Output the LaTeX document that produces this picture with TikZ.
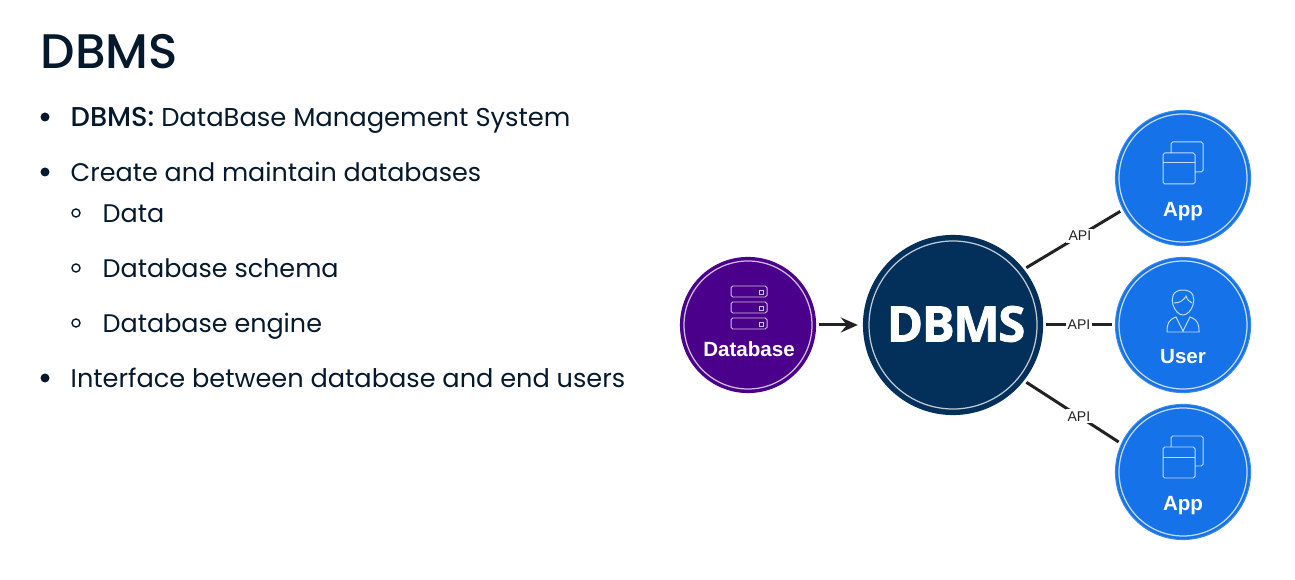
\documentclass[tikz,border=0pt]{standalone}
\usetikzlibrary{arrows.meta}
\usepackage{fontspec}
\setmainfont{Poppins}
\newfontfamily\midfont{Poppins Medium}
\newfontfamily\iconfont{Liberation Sans}
\newfontfamily\logofont[LetterSpace=-3,FakeBold=1.5]{Open Sans}
\definecolor{inkcol}{HTML}{05192D}
\definecolor{dbmscol}{HTML}{03305A}
\definecolor{dbcol}{HTML}{4B008C}
\definecolor{appcol}{HTML}{1572E8}
\definecolor{linecol}{HTML}{222222}
\tikzset{
  dbmsnode/.style={circle,fill=dbmscol,draw=dbmscol,line width=0.3pt,minimum size=1.79cm,inner sep=0,outer sep=1pt},
  dbnode/.style={circle,fill=dbcol,draw=dbcol,line width=0.3pt,minimum size=1.35cm,inner sep=0,outer sep=1pt},
  appnode/.style={circle,fill=appcol,draw=appcol!85!white,line width=0.3pt,minimum size=1.35cm,inner sep=0,outer sep=1pt},
  ringline/.style={draw=white,draw opacity=0.75,line width=0.35pt},
  iconline/.style={draw=white,draw opacity=0.75,line width=0.28pt,rounded corners=0.5pt},
  nodelabel/.style={text=white,font=\iconfont\bfseries\fontsize{5.85}{7}\selectfont},
  apilabel/.style={fill=white,inner sep=0.6pt,text=linecol,font=\iconfont\fontsize{4}{5}\selectfont},
  conn/.style={draw=linecol,line width=0.85pt},
  itemtext/.style={anchor=base west,text=inkcol,inner sep=0,font=\fontsize{7.23}{9}\selectfont},
  bulletdot/.style={circle,fill=inkcol,minimum size=0.09cm,inner sep=0},
  bulletring/.style={circle,draw=inkcol,line width=0.4pt,minimum size=0.08cm,inner sep=0},
  apps/.pic={
    \draw[iconline] (-12,-25) -- (-12,-36) -- (20,-36) -- (20,-6) -- (12,-6);
    \draw[iconline] (-20,6) rectangle (12,-25);
    \draw[iconline] (-20,-15) -- (12,-15);
  },
}
\begin{document}
\begin{tikzpicture}[x=0.01cm,y=-0.01cm,>={Stealth[length=1.7mm,width=1.5mm,inset=0.6mm]}]
  \useasboundingbox (0,0) rectangle (1295,580);
  % left column
  \node[anchor=base west,inner sep=0,text=inkcol,font=\midfont\fontsize{13.8}{16}\selectfont] (title) at (40,69) {DBMS};
  \node[bulletdot] (dot1) at (45,117) {};
  \node[itemtext,font=\fontsize{7.33}{9}\selectfont] (item1) at (70,127) {{\midfont\fontsize{7.75}{9}\selectfont DBMS:} DataBase Management System};
  \node[bulletdot] (dot2) at (45,172) {};
  \node[itemtext] (item2) at (70,182) {Create and maintain databases};
  \foreach \n/\y/\t in {1/213/Data,2/268/Database schema,3/323/Database engine}{
    \node[bulletring] (ring\n) at (76,\y) {};
    \node[itemtext] (sub\n) at (102,\y+10) {\t};
  }
  \node[bulletdot] (dot3) at (45,378) {};
  \node[itemtext,font=\fontsize{7.28}{9}\selectfont] (item3) at (70,388) {Interface between database and end users};
  % circles
  \node[dbnode] (db) at (748,325) {};
  \node[dbmsnode] (dbms) at (953,325) {};
  \node[appnode] (apptop) at (1183,178) {};
  \node[appnode] (user) at (1183,325) {};
  \node[appnode] (appbot) at (1183,472) {};
  \draw[ringline] (db) circle (64);
  \draw[ringline] (dbms) circle (84);
  \foreach \c in {apptop,user,appbot}
    \draw[ringline] (\c) circle (64);
  % icons
  \foreach \y in {-39,-23,-7}{
    \draw[iconline] ([shift={(-17,\y)}]db.center) rectangle ([shift={(19,\y+11)}]db.center);
    \draw[iconline,rounded corners=0pt] ([shift={(11,\y+4)}]db.center) rectangle ([shift={(15,\y+8)}]db.center);
  }
  \pic at (apptop) {apps};
  \pic at (appbot) {apps};
  \draw[iconline,rounded corners=0pt] (1183,290) .. controls (1172,290) and (1171,299) .. (1173,305) .. controls (1175,311) and (1179,315) .. (1183,315) .. controls (1187,315) and (1191,311) .. (1193,305) .. controls (1195,299) and (1194,290) .. (1183,290);
  \draw[iconline,rounded corners=0pt] (1174,303) .. controls (1180,303) and (1184,300) .. (1186,296) .. controls (1187,300) and (1190,302) .. (1192,303);
  \draw[iconline,rounded corners=0pt] (1167,332) .. controls (1167,324) and (1168,320) .. (1176,317) -- (1183,331) -- (1190,317) .. controls (1198,320) and (1199,324) .. (1199,332) -- cycle;
  % labels
  \node[nodelabel] (dblabel) at (749,349) {Database};
  \node[nodelabel] (applabel1) at (1183,212) {App};
  \node[nodelabel] (userlabel) at (1183,357) {User};
  \node[nodelabel] (applabel2) at (1183,506) {App};
  \node[text=white,font=\logofont\bfseries\fontsize{14}{17}\selectfont] (dbmslabel) at (956,324) {DBMS};
  % connectors
  \draw[conn,->,shorten >=0.6pt] (db) -- (dbms);
  \draw[conn] (dbms.38) -- node[apilabel,pos=0.57] (api1) {API} (apptop.208);
  \draw[conn] (dbms) -- node[apilabel] (api2) {API} (user);
  \draw[conn] (dbms.-38) -- node[apilabel,pos=0.57] (api3) {API} (appbot.155);
\end{tikzpicture}
\end{document}
